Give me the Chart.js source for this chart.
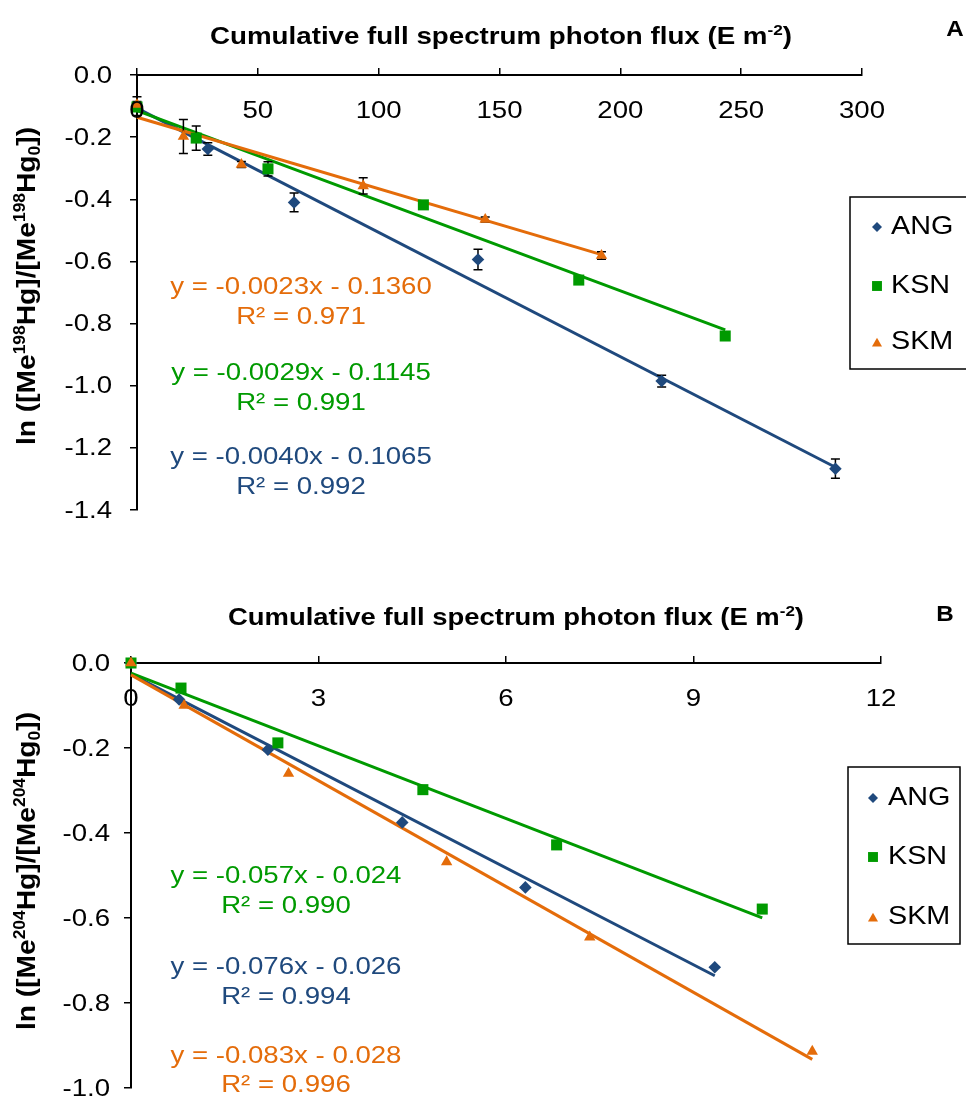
<!DOCTYPE html>
<html>
<head>
<meta charset="utf-8">
<script src="https://cdn.jsdelivr.net/npm/chart.js@4.4.1/dist/chart.umd.min.js"></script>
<style>
  html, body { margin: 0; padding: 0; background: #fff; }
  #wrap { position: relative; width: 966px; height: 1100px; overflow: hidden; }
  canvas { position: absolute; left: 0; }
  #cA { top: 0; }
  #cB { top: 590px; }
</style>
</head>
<body>
<div id="wrap">
  <canvas id="cA" width="966" height="590"></canvas>
  <canvas id="cB" width="966" height="510"></canvas>
</div>
<script>
// ---------------- data ----------------
const seriesNames = ['ANG', 'KSN', 'SKM'];

// Panel A: ln([Me198Hg]/[Me198Hg0]) vs cumulative photon flux (E m-2)
const fluxA_ANG = [0, 29.3, 65.0, 141.1, 217.1, 289.0];
const lnA_ANG   = [-0.100, -0.238, -0.410, -0.594, -0.985, -1.267];
const errA_ANG  = [0.030, 0.020, 0.030, 0.033, 0.019, 0.031];
const fluxA_KSN = [0, 24.5, 54.2, 118.5, 182.8, 243.4];
const lnA_KSN   = [-0.103, -0.203, -0.302, -0.418, -0.660, -0.840];
const errA_KSN  = [0.010, 0.039, 0.023, 0.012, 0.010, 0];
const fluxA_SKM = [0, 19.2, 43.2, 93.6, 144.1, 192.2];
const lnA_SKM   = [-0.095, -0.198, -0.288, -0.357, -0.465, -0.581];
const errA_SKM  = [0.010, 0.055, 0.010, 0.026, 0.008, 0.012];
const slopeA     = [-0.0040, -0.0029, -0.0023];
const interceptA = [-0.1065, -0.1145, -0.1360];
const r2A        = [0.992, 0.991, 0.971];
const xTicksA = [0, 50, 100, 150, 200, 250, 300];
const yTicksA = [0, -0.2, -0.4, -0.6, -0.8, -1.0, -1.2, -1.4];

// Panel B: ln([Me204Hg]/[Me204Hg0]) vs cumulative photon flux (E m-2)
const fluxB_ANG = [0, 0.77, 2.19, 4.34, 6.31, 9.34];
const lnB_ANG   = [0, -0.086, -0.204, -0.375, -0.528, -0.716];
const fluxB_KSN = [0, 0.80, 2.35, 4.67, 6.81, 10.10];
const lnB_KSN   = [0, -0.059, -0.188, -0.298, -0.428, -0.579];
const fluxB_SKM = [0, 0.85, 2.52, 5.05, 7.34, 10.90];
const lnB_SKM   = [0, -0.100, -0.260, -0.468, -0.645, -0.914];
const slopeB     = [-0.076, -0.057, -0.083];
const interceptB = [-0.026, -0.024, -0.028];
const r2B        = [0.994, 0.990, 0.996];
const xTicksB = [0, 3, 6, 9, 12];
const yTicksB = [0, -0.2, -0.4, -0.6, -0.8, -1.0];

// ---------------- styling ----------------
const COLORS = ['#1F497D', '#009A00', '#E46C0A'];
const STYLES = ['rectRot', 'rect', 'triangle'];
const RADII  = [6.3, 7.8, 6.6];
const LEGEND_RADII = [5, 7, 5.8];
const FONT = '"Liberation Sans", Arial, Helvetica, sans-serif';
const SX = 1.15;          // horizontal widening of the lettering
const TICK = 7;
const TITLE_SIZE = 24;

function drawText(ctx, s, x, y, o) {
  const size = o.size || 24, sx = o.sx || SX;
  ctx.save();
  ctx.font = (o.bold ? 'bold ' : '') + size + 'px ' + FONT;
  ctx.fillStyle = o.color || '#000';
  ctx.textBaseline = 'middle';
  ctx.textAlign = 'left';
  const w = ctx.measureText(s).width * sx;
  const x0 = o.align === 'center' ? x - w / 2 : (o.align === 'right' ? x - w : x);
  ctx.translate(x0, y);
  ctx.scale(sx, 1);
  ctx.fillText(s, 0, 0);
  ctx.restore();
}

// text with superscript / subscript pieces
function segFont(seg, size, bold) {
  const s = (seg.sup || seg.sub) ? size * 0.62 : size;
  return (bold ? 'bold ' : '') + s + 'px ' + FONT;
}
function richWidth(ctx, segs, size, bold) {
  let w = 0;
  segs.forEach(seg => { ctx.font = segFont(seg, size, bold); w += ctx.measureText(seg.t).width; });
  return w;
}
function drawRich(ctx, segs, size, bold, color) {
  // draws starting at x = 0, alphabetic baseline at y = 0
  let x = 0;
  ctx.fillStyle = color;
  ctx.textBaseline = 'alphabetic';
  ctx.textAlign = 'left';
  segs.forEach(seg => {
    ctx.font = segFont(seg, size, bold);
    const dy = seg.sup ? -size * 0.38 : (seg.sub ? size * 0.18 : 0);
    ctx.fillText(seg.t, x, dy);
    x += ctx.measureText(seg.t).width;
  });
}

const titleSegs = [{ t: 'Cumulative full spectrum photon flux (E m' }, { t: '-2', sup: true }, { t: ')' }];
function yTitleSegs(iso) {
  return [{ t: 'ln ([Me' }, { t: iso, sup: true }, { t: 'Hg]/[Me' }, { t: iso, sup: true },
          { t: 'Hg' }, { t: '0', sub: true }, { t: '])' }];
}

function fmtNum(v, d) { return (Math.abs(v) < 1e-12 ? 0 : v).toFixed(d); }

function panelPlugin(P) {
  let barsDone = false;
  return {
    id: 'panel' + P.letter,
    beforeDatasetsDraw() { barsDone = false; },
    beforeDatasetDraw(chart, args) {
      const ds = chart.data.datasets[args.index];
      if (barsDone || !ds.isMarker || !P.errors) return;
      barsDone = true;
      const ctx = chart.ctx, xs = chart.scales.x, ys = chart.scales.y;
      ctx.save();
      ctx.strokeStyle = '#000';
      ctx.lineWidth = 1.5;
      P.series.forEach((s, k) => {
        const err = P.errors[k];
        s.x.forEach((xv, i) => {
          if (!err[i]) return;
          const px = xs.getPixelForValue(xv);
          const t = ys.getPixelForValue(s.y[i] + err[i]);
          const b = ys.getPixelForValue(s.y[i] - err[i]);
          ctx.beginPath();
          ctx.moveTo(px, t); ctx.lineTo(px, b);
          ctx.moveTo(px - 4.5, t); ctx.lineTo(px + 4.5, t);
          ctx.moveTo(px - 4.5, b); ctx.lineTo(px + 4.5, b);
          ctx.stroke();
        });
      });
      ctx.restore();
    },
    afterDraw(chart) {
      const ctx = chart.ctx, xs = chart.scales.x, ys = chart.scales.y, area = chart.chartArea;
      // tick labels, placed with the scales
      xs.ticks.forEach(t => drawText(ctx, String(t.value), xs.getPixelForValue(t.value), area.top + 36, { align: 'center' }));
      ys.ticks.forEach(t => drawText(ctx, fmtNum(t.value, 1), area.left - P.yLabelGap, ys.getPixelForValue(t.value) + 1, { align: 'right' }));

      // title above the axis
      ctx.save();
      const tw = richWidth(ctx, titleSegs, TITLE_SIZE, true);
      ctx.translate(P.title.cx, P.title.base);
      ctx.scale(P.title.w / tw, 1);
      ctx.translate(-tw / 2, 0);
      drawRich(ctx, titleSegs, TITLE_SIZE, true, '#000');
      ctx.restore();
      drawText(ctx, P.letter, P.letterPos[0], P.letterPos[1], { size: 22, bold: true, align: 'center', sx: 1.1 });

      // rotated y-axis title
      const yt = yTitleSegs(P.iso);
      ctx.save();
      const yw = richWidth(ctx, yt, 23, true);
      ctx.translate(P.yTitle.base, P.yTitle.cy);
      ctx.rotate(-Math.PI / 2);
      ctx.scale(P.yTitle.len / yw, SX);
      ctx.translate(-yw / 2, 0);
      drawRich(ctx, yt, 23, true, '#000');
      ctx.restore();

      // regression equations
      P.eqs.forEach(e => {
        const k = e.series;
        const sl = P.slope[k], ic = P.intercept[k];
        const line1 = 'y = ' + sl.toFixed(P.dec) + 'x ' + (ic < 0 ? '- ' : '+ ') + Math.abs(ic).toFixed(P.dec);
        const line2 = 'R\u00B2 = ' + P.r2[k].toFixed(3);
        drawText(ctx, line1, P.eqX, e.y[0], { align: 'center', color: COLORS[k] });
        drawText(ctx, line2, P.eqX, e.y[1], { align: 'center', color: COLORS[k] });
      });

      // legend
      const L = P.legend;
      ctx.save();
      ctx.strokeStyle = '#000';
      ctx.lineWidth = 1.5;
      ctx.strokeRect(L.x, L.y, L.w, L.h);
      seriesNames.forEach((n, k) => {
        ctx.fillStyle = COLORS[k];
        Chart.helpers.drawPoint(ctx, { pointStyle: STYLES[k], radius: LEGEND_RADII[k], rotation: 0, borderWidth: 0 },
          L.mx, L.rows[k] + (STYLES[k] === 'triangle' ? 1.5 : 0));
        drawText(ctx, n, L.tx, L.rows[k], { size: 25 });
      });
      ctx.restore();
    }
  };
}

function makeChart(id, P) {
  const datasets = [];
  // later series sit on top of earlier ones (lower order = drawn last)
  P.series.forEach((s, k) => {
    const xmax = s.x[s.x.length - 1];
    datasets.push({
      label: seriesNames[k] + ' fit',
      data: [{ x: 0, y: P.intercept[k] }, { x: xmax, y: P.slope[k] * xmax + P.intercept[k] }],
      showLine: true, borderColor: COLORS[k], borderWidth: 3, pointRadius: 0,
      order: 10 - k, clip: false
    });
  });
  P.series.forEach((s, k) => {
    datasets.push({
      label: seriesNames[k], isMarker: true,
      data: s.x.map((xv, i) => ({ x: xv, y: s.y[i] })),
      showLine: false, pointStyle: STYLES[k], pointRadius: RADII[k],
      backgroundColor: COLORS[k], borderColor: COLORS[k], pointBorderWidth: 0,
      order: 5 - k, clip: false
    });
  });
  const axisCommon = {
    type: 'linear',
    grid: { display: true, drawOnChartArea: false, drawTicks: true, tickLength: TICK, color: '#000', lineWidth: 1.5 },
    border: { display: true, color: '#000', width: 2 },
    ticks: { display: false }
  };
  return new Chart(document.getElementById(id), {
    type: 'scatter',
    data: { datasets },
    options: {
      responsive: false, animation: false, devicePixelRatio: 1, events: [],
      layout: { padding: { left: 0, top: P.area.top - TICK, right: 966 - P.area.right, bottom: P.H - P.area.bottom } },
      plugins: { legend: { display: false }, tooltip: { enabled: false }, title: { display: false } },
      scales: {
        x: Object.assign({}, axisCommon, {
          position: 'top', min: P.xTicks[0], max: P.xTicks[P.xTicks.length - 1],
          afterBuildTicks: sc => { sc.ticks = P.xTicks.map(v => ({ value: v })); },
          afterFit: sc => { sc.height = TICK; }
        }),
        y: Object.assign({}, axisCommon, {
          position: 'left', min: P.yTicks[P.yTicks.length - 1], max: P.yTicks[0],
          afterBuildTicks: sc => { sc.ticks = P.yTicks.map(v => ({ value: v })); },
          afterFit: sc => { sc.width = P.area.left; }
        })
      }
    },
    plugins: [panelPlugin(P)]
  });
}

makeChart('cA', {
  letter: 'A', iso: '198', H: 590,
  area: { left: 137, right: 862, top: 75, bottom: 510 },
  xTicks: xTicksA, yTicks: yTicksA,
  series: [{ x: fluxA_ANG, y: lnA_ANG }, { x: fluxA_KSN, y: lnA_KSN }, { x: fluxA_SKM, y: lnA_SKM }],
  errors: [errA_ANG, errA_KSN, errA_SKM],
  slope: slopeA, intercept: interceptA, r2: r2A, dec: 4,
  yLabelGap: 25,
  title: { cx: 501, base: 44, w: 582 },
  letterPos: [955, 30],
  yTitle: { base: 35, cy: 286, len: 318 },
  eqX: 301,
  eqs: [{ series: 2, y: [287, 317] }, { series: 1, y: [373, 403] }, { series: 0, y: [457, 487] }],
  legend: { x: 850, y: 197, w: 140, h: 172, mx: 877, tx: 891, rows: [227, 286, 342] }
});

makeChart('cB', {
  letter: 'B', iso: '204', H: 510,
  area: { left: 131, right: 881, top: 73, bottom: 498 },
  xTicks: xTicksB, yTicks: yTicksB,
  series: [{ x: fluxB_ANG, y: lnB_ANG }, { x: fluxB_KSN, y: lnB_KSN }, { x: fluxB_SKM, y: lnB_SKM }],
  errors: null,
  slope: slopeB, intercept: interceptB, r2: r2B, dec: 3,
  yLabelGap: 21,
  title: { cx: 516, base: 35, w: 576 },
  letterPos: [945, 25],
  yTitle: { base: 35, cy: 281, len: 318 },
  eqX: 286,
  eqs: [{ series: 1, y: [286, 316] }, { series: 0, y: [377, 407] }, { series: 2, y: [466, 495] }],
  legend: { x: 848, y: 177, w: 112, h: 177, mx: 873, tx: 888, rows: [208, 267, 327] }
});
</script>
</body>
</html>
